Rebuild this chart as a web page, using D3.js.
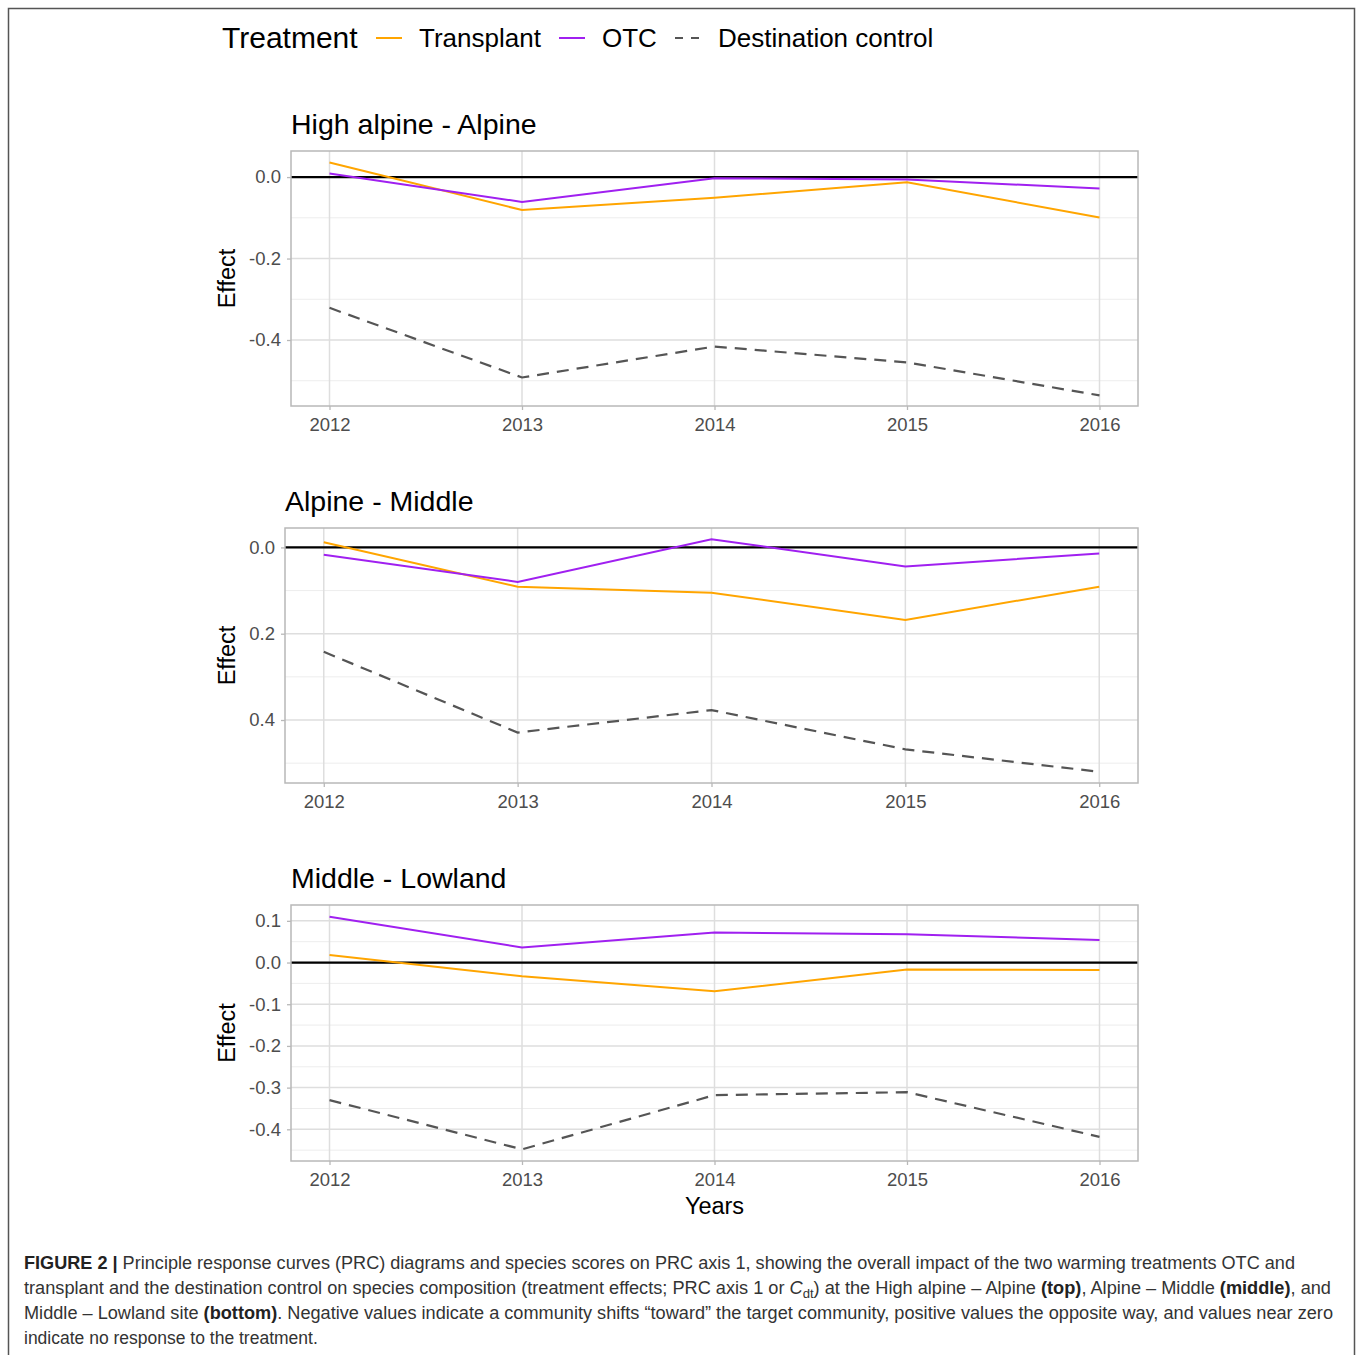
<!DOCTYPE html>
<html>
<head>
<meta charset="utf-8">
<script src="https://cdn.jsdelivr.net/npm/d3@7"></script>
<style>
  body { margin: 0; background: #fff; }
  svg { display: block; font-family: "Liberation Sans", Arial, sans-serif; }
</style>
</head>
<body>
<svg id="chart" width="1360" height="1355"></svg>
<script>
var years = [2012, 2013, 2014, 2015, 2016]
var panelTitles = ['High alpine - Alpine', 'Alpine - Middle', 'Middle - Lowland']
var seriesNames = ['Transplant', 'OTC', 'Destination control']

// High alpine - Alpine
var transplantTop = [0.036, -0.081, -0.051, -0.013, -0.099]
var otcTop = [0.009, -0.061, -0.003, -0.006, -0.028]
var destTop = [-0.321, -0.492, -0.416, -0.455, -0.536]

// Alpine - Middle (axis printed without minus signs, increasing downward)
var transplantMid = [-0.012, 0.091, 0.105, 0.168, 0.091]
var otcMid = [0.017, 0.080, -0.019, 0.044, 0.014]
var destMid = [0.242, 0.429, 0.377, 0.468, 0.520]

// Middle - Lowland
var transplantLow = [0.018, -0.033, -0.069, -0.017, -0.018]
var otcLow = [0.110, 0.036, 0.072, 0.068, 0.054]
var destLow = [-0.330, -0.448, -0.318, -0.311, -0.418]

var yTicksTop = [0, -0.2, -0.4]
var yMinorTop = [-0.1, -0.3, -0.5]
var yTicksMid = [0, 0.2, 0.4]
var yMinorMid = [0.1, 0.3, 0.5]
var yTicksLow = [0.1, 0, -0.1, -0.2, -0.3, -0.4]
var yMinorLow = [0.05, -0.05, -0.15, -0.25, -0.35, -0.45]

var colors = { 'Transplant': '#FFA500', 'OTC': '#A020F0', 'Destination control': '#555555' }

var svg = d3.select('#chart')

// outer frame
svg.append('path')
  .attr('d', 'M8.5,1355 V8.5 H1354.5 V1355')
  .attr('fill', 'none')
  .attr('stroke', '#555')
  .attr('stroke-width', 1.5)

var panels = [
  { title: panelTitles[0], left: 291, right: 1138, top: 151, bottom: 406,
    yBottom: -0.562, yTop: 0.064, ticks: yTicksTop, minor: yMinorTop,
    series: [transplantTop, otcTop, destTop] },
  { title: panelTitles[1], left: 285, right: 1138, top: 528, bottom: 783,
    yBottom: 0.546, yTop: -0.045, ticks: yTicksMid, minor: yMinorMid,
    series: [transplantMid, otcMid, destMid] },
  { title: panelTitles[2], left: 291, right: 1138, top: 905, bottom: 1161,
    yBottom: -0.476, yTop: 0.138, ticks: yTicksLow, minor: yMinorLow,
    series: [transplantLow, otcLow, destLow] }
]

panels.forEach(function (p) {
  var x = d3.scaleLinear()
    .domain([2011.8, 2016.2])
    .range([p.left, p.right])
  var y = d3.scaleLinear()
    .domain([p.yBottom, p.yTop])
    .range([p.bottom, p.top])

  var g = svg.append('g').attr('class', 'panel')

  g.append('text')
    .attr('x', p.left)
    .attr('y', p.top - 17)
    .attr('font-size', 28.5)
    .attr('fill', '#000')
    .text(p.title)

  // minor grid
  g.selectAll('.minor')
    .data(p.minor).enter().append('line')
    .attr('x1', p.left).attr('x2', p.right)
    .attr('y1', function (d) { return y(d) })
    .attr('y2', function (d) { return y(d) })
    .attr('stroke', '#ededed')
    .attr('stroke-width', 1)

  // major grid
  g.selectAll('.majorY')
    .data(p.ticks).enter().append('line')
    .attr('x1', p.left).attr('x2', p.right)
    .attr('y1', function (d) { return y(d) })
    .attr('y2', function (d) { return y(d) })
    .attr('stroke', '#dedede')
    .attr('stroke-width', 1.5)

  g.selectAll('.majorX')
    .data(years).enter().append('line')
    .attr('x1', function (d) { return x(d) })
    .attr('x2', function (d) { return x(d) })
    .attr('y1', p.top).attr('y2', p.bottom)
    .attr('stroke', '#dedede')
    .attr('stroke-width', 1.5)

  // zero reference line
  g.append('line')
    .attr('x1', p.left).attr('x2', p.right)
    .attr('y1', y(0)).attr('y2', y(0))
    .attr('stroke', '#000')
    .attr('stroke-width', 2.2)

  var line = d3.line()
    .x(function (d, i) { return x(years[i]) })
    .y(function (d) { return y(d) })

  p.series.forEach(function (vals, i) {
    var name = seriesNames[i]
    g.append('path')
      .datum(vals)
      .attr('fill', 'none')
      .attr('stroke', colors[name])
      .attr('stroke-width', name === 'Destination control' ? 2.2 : 2)
      .attr('stroke-dasharray', name === 'Destination control' ? '12,8' : null)
      .attr('d', line)
  })

  // panel border
  g.append('rect')
    .attr('x', p.left).attr('y', p.top)
    .attr('width', p.right - p.left).attr('height', p.bottom - p.top)
    .attr('fill', 'none')
    .attr('stroke', '#b8b8b8')
    .attr('stroke-width', 1.5)

  var gX = g.append('g')
    .attr('transform', 'translate(0,' + p.bottom + ')')
    .call(d3.axisBottom(x).tickValues(years).tickFormat(d3.format('d')).tickSize(4).tickPadding(8))
  var gY = g.append('g')
    .attr('transform', 'translate(' + p.left + ',0)')
    .call(d3.axisLeft(y).tickValues(p.ticks).tickFormat(function (t) { return t.toFixed(1) }).tickSize(4).tickPadding(6))

  ;[gX, gY].forEach(function (a) {
    a.select('.domain').remove()
    a.selectAll('.tick line').attr('stroke', '#b8b8b8').attr('stroke-width', 1.3)
    a.selectAll('.tick text')
      .attr('fill', '#4d4d4d')
      .attr('font-size', 18.5)
      .attr('font-family', '"Liberation Sans", Arial, sans-serif')
  })

  g.append('text')
    .attr('transform', 'translate(235,' + ((p.top + p.bottom) / 2) + ') rotate(-90)')
    .attr('text-anchor', 'middle')
    .attr('font-size', 23.5)
    .attr('fill', '#000')
    .text('Effect')
})

svg.append('text')
  .attr('x', (291 + 1138) / 2)
  .attr('y', 1214)
  .attr('text-anchor', 'middle')
  .attr('font-size', 23.5)
  .attr('fill', '#000')
  .text('Years')

// legend
var legend = svg.append('g').attr('class', 'legend')
legend.append('text')
  .attr('x', 222).attr('y', 48)
  .attr('font-size', 30)
  .attr('fill', '#000')
  .text('Treatment')

var legendX = [376, 559, 675]
seriesNames.forEach(function (name, i) {
  legend.append('line')
    .attr('x1', legendX[i]).attr('x2', legendX[i] + 26)
    .attr('y1', 38).attr('y2', 38)
    .attr('stroke', colors[name])
    .attr('stroke-width', 2)
    .attr('stroke-dasharray', name === 'Destination control' ? '8,8' : null)
  legend.append('text')
    .attr('x', legendX[i] + 43).attr('y', 47)
    .attr('font-size', 26)
    .attr('fill', '#000')
    .text(name)
})

// caption
var caption = [
  [['FIGURE 2 |', 'b'], [' Principle response curves (PRC) diagrams and species scores on PRC axis 1, showing the overall impact of the two warming treatments OTC and']],
  [['transplant and the destination control on species composition (treatment effects; PRC axis 1 or '], ['C', 'i'], ['dt', 'sub'], [') at the High alpine \u2013 Alpine '], ['(top)', 'b'], [', Alpine \u2013 Middle '], ['(middle)', 'b'], [', and']],
  [['Middle \u2013 Lowland site '], ['(bottom)', 'b'], ['. Negative values indicate a community shifts \u201ctoward\u201d the target community, positive values the opposite way, and values near zero']],
  [['indicate no response to the treatment.']]
]
var capFont = 17.5
var capG = svg.append('g').attr('class', 'caption')
var capTexts = caption.map(function (parts, li) {
  var t = capG.append('text')
    .attr('x', 24)
    .attr('y', 1269 + li * 25)
    .attr('font-size', capFont)
    .attr('fill', '#333')
  parts.forEach(function (pt) {
    var s = t.append('tspan').text(pt[0])
    if (pt[1] === 'b') s.attr('font-weight', 'bold').attr('fill', '#222')
    if (pt[1] === 'i') s.attr('font-style', 'italic')
    if (pt[1] === 'sub') s.attr('font-size', capFont * 0.72).attr('dy', 4)
    else if (pt[1] !== 'sub' && t.node().childNodes.length > 1) {
      var prev = t.node().childNodes[t.node().childNodes.length - 2]
      if (prev.getAttribute('dy') === '4') s.attr('dy', -4)
    }
  })
  return t
})
// squeeze caption lines to the reference widths
var lineWidths = [1271, 1307, 1309]
lineWidths.forEach(function (w, i) {
  capTexts[i].attr('textLength', w).attr('lengthAdjust', 'spacingAndGlyphs')
})
</script>
</body>
</html>
